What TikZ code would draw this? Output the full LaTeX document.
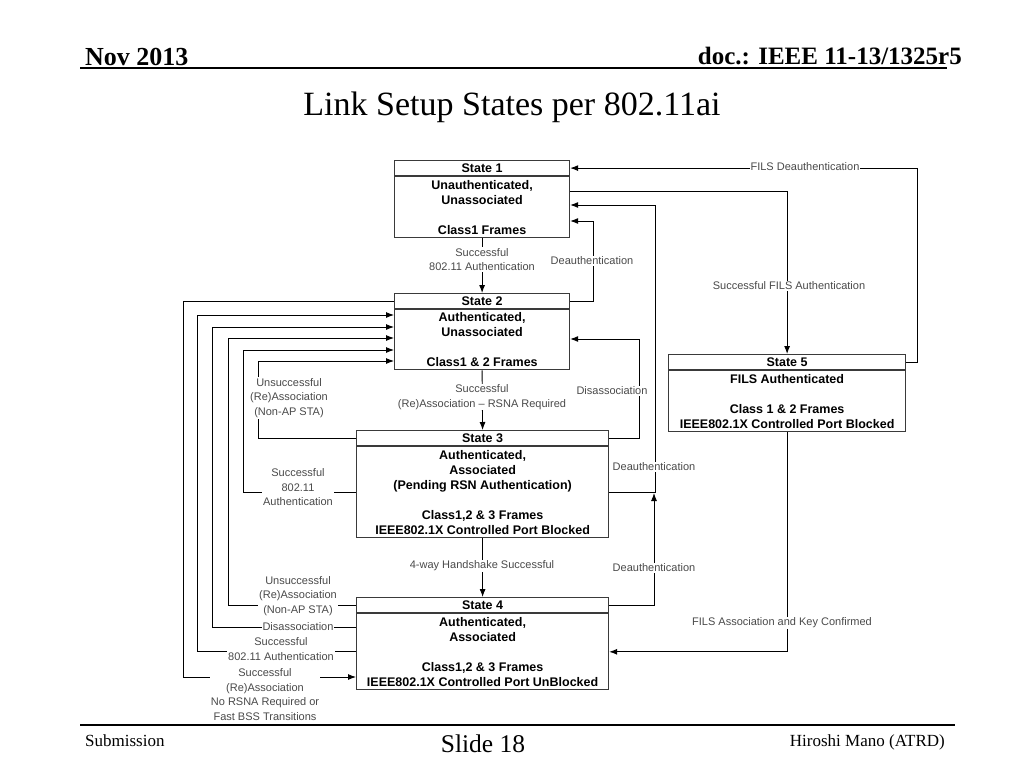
\documentclass[tikz,border=0pt]{standalone}
\usepackage{fontspec}
\setmainfont{Liberation Serif}
\newfontfamily\arialf{Liberation Sans}
\usetikzlibrary{arrows.meta}
\definecolor{boxc}{HTML}{3A3A3A}
\definecolor{lblc}{HTML}{4A4A4A}
\begin{document}
\begin{tikzpicture}[x=1pt,y=-1pt,
  stt/.style={draw=boxc, line width=1.2pt, fill=white, inner sep=0pt, minimum height=15pt,
    font=\arialf\bfseries\fontsize{12.5}{15}\selectfont, anchor=north west},
  stb/.style={draw=boxc, line width=1.2pt, fill=white, inner sep=0pt, align=center,
    font=\arialf\bfseries\fontsize{12.5}{15}\selectfont, anchor=north},
  lbl/.style={fill=white, inner sep=1pt, text=lblc, align=center,
    font=\arialf\fontsize{11}{14.5}\selectfont},
  con/.style={draw=black, line width=0.9pt},
  arr/.style={con, -{Latex[length=8pt,width=6pt]}}
]
\useasboundingbox (0,0) rectangle (1024,768);

% header and footer
\node[anchor=base west, inner sep=0pt, font=\bfseries\fontsize{26}{30}\selectfont] (hd1) at (85,65.5) {Nov 2013};
\node[anchor=base east, inner sep=0pt, font=\bfseries\fontsize{25}{30}\selectfont] (hd2) at (962,64) {doc.: IEEE 11-13/1325r5};
\draw[line width=1.5pt] (80,68) -- (947,68);
\node[anchor=base, inner sep=0pt, font=\fontsize{34}{40}\selectfont] (ttl) at (512,115) {Link Setup States per 802.11ai};
\draw[line width=1.3pt] (80,725) -- (955,725);
\node[anchor=base west, inner sep=0pt, font=\fontsize{17}{20}\selectfont] (ft1) at (85,746) {Submission};
\node[anchor=base, inner sep=0pt, font=\fontsize{25.5}{30}\selectfont] (ft2) at (483,752) {Slide 18};
\node[anchor=base east, inner sep=0pt, font=\fontsize{17}{20}\selectfont] (ft3) at (945,746) {Hiroshi Mano (ATRD)};

% states
\node[stt, minimum width=175pt] (s1t) at (394,160) {State 1};
\node[stb, minimum width=175pt, minimum height=61pt] (s1) at (s1t.south) {Unauthenticated,\\Unassociated\\[15pt]Class1 Frames};

\node[stt, minimum width=175pt] (s2t) at (394,293) {State 2};
\node[stb, minimum width=175pt, minimum height=60pt] (s2) at (s2t.south) {Authenticated,\\Unassociated\\[15pt]Class1 \& 2 Frames};

\node[stt, minimum width=252pt] (s3t) at (356,430) {State 3};
\node[stb, minimum width=252pt, minimum height=91pt] (s3) at (s3t.south) {Authenticated,\\Associated\\(Pending RSN Authentication)\\[15pt]Class1,2 \& 3 Frames\\IEEE802.1X Controlled Port Blocked};

\node[stt, minimum width=252pt] (s4t) at (356,597) {State 4};
\node[stb, minimum width=252pt, minimum height=76pt] (s4) at (s4t.south) {Authenticated,\\Associated\\[15pt]Class1,2 \& 3 Frames\\IEEE802.1X Controlled Port UnBlocked};

\node[stt, minimum width=237pt] (s5t) at (668,354) {State 5};
\node[stb, minimum width=237pt, minimum height=61pt] (s5) at (s5t.south) {FILS Authenticated\\[15pt]Class 1 \& 2 Frames\\IEEE802.1X Controlled Port Blocked};

% central connectors
\draw[arr] (s1.south) -- (s2t.north);
\draw[arr] (s2.south) -- (s3t.north);
\draw[arr] (s3.south) -- (s4t.north);

% right connectors
\draw[arr] (s2t.east) -- ++(23,0) |- (s1.east |- 0,221);
\draw[arr] (s3t.east) -- ++(30,0) |- (s2.east |- 0,339);
\draw[arr] (s3.east) -- ++(46,0) |- (s1.east |- 0,205);
\draw[arr] (s4t.east) -| (654,493);
\draw[arr] (s1.east |- 0,191) -| (s5t.north);
\draw[arr] (s5t.east) -- ++(11,0) |- (s1t.east);
\draw[arr] (s5.south) |- (s4.east);

% left connectors
\draw[arr] (s3t.west) -- ++(-98,0) |- (s2.west |- 0,361);
\draw[arr] (s3.west) -- ++(-113,0) |- (s2.west |- 0,350);
\draw[arr] (s4t.west) -- ++(-128,0) |- (s2.west |- 0,338);
\draw[arr] (s4.west |- 0,627) -- ++(-144,0) |- (s2.west |- 0,327);
\draw[arr] (s4.west) -- ++(-159,0) |- (s2.west |- 0,315);
\draw[arr] (s2t.west) -- ++(-211,0) |- (s4.west |- 0,677);

% labels
\node[lbl] (l1) at (482,259.5) {Successful\\802.11 Authentication};
\node[lbl] (l2) at (592,261) {Deauthentication};
\node[lbl] (l3) at (612,391) {Disassociation};
\node[lbl] (l4) at (482,397) {Successful\\(Re)Association \textendash{} RSNA Required};
\node[lbl] (l5) at (654,467) {Deauthentication};
\node[lbl] (l6) at (654,568) {Deauthentication};
\node[lbl] (l7) at (482,566) {4-way Handshake Successful};
\node[lbl] (l8) at (805,167) {FILS Deauthentication};
\node[lbl] (l9) at (789,286) {Successful FILS Authentication};
\node[lbl] (l10) at (782,623) {FILS Association and Key Confirmed};
\node[lbl] (l11) at (289,398) {Unsuccessful\\(Re)Association\\(Non-AP STA)};
\node[lbl] (l12) at (298,487.5) {Successful\\802.11\\Authentication};
\node[lbl] (l13) at (298,596) {Unsuccessful\\(Re)Association\\(Non-AP STA)};
\node[lbl] (l14) at (298,627) {Disassociation};
\node[lbl] (l15) at (281,649) {Successful\\802.11 Authentication};
\node[lbl] (l16) at (265,694.5) {Successful\\(Re)Association\\No RSNA Required or\\Fast BSS Transitions};
\end{tikzpicture}
\end{document}
